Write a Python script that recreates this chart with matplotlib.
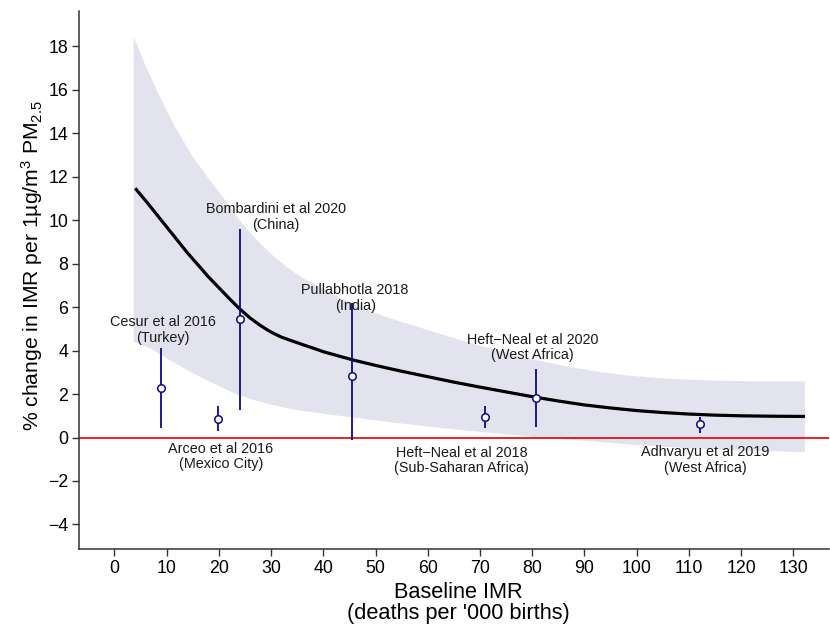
import matplotlib
matplotlib.use("Agg")
import matplotlib.pyplot as plt
import numpy as np

plt.rcParams['font.family'] = ['Liberation Sans', 'DejaVu Sans']
plt.rcParams['mathtext.fontset'] = 'custom'
plt.rcParams['mathtext.rm'] = 'Liberation Sans'
plt.rcParams['mathtext.it'] = 'Liberation Sans:italic'
plt.rcParams['mathtext.bf'] = 'Liberation Sans:bold'

# Fitted curve
curve_x = [4, 6, 8, 10, 12, 14, 16, 18, 20, 22, 24, 26, 28, 30, 32, 34, 36, 38, 40, 43, 46, 50, 55,
           60, 65, 70, 75, 80, 85, 90, 95, 100, 105, 110, 115, 120, 126, 132.2]
curve_y = [11.47, 10.9, 10.3, 9.7, 9.1, 8.5, 7.95, 7.4, 6.9, 6.4, 5.92, 5.5, 5.15, 4.85, 4.62, 4.45,
           4.28, 4.12, 3.95, 3.75, 3.55, 3.32, 3.05, 2.8, 2.55, 2.32, 2.1, 1.88, 1.68, 1.5, 1.36, 1.24,
           1.15, 1.08, 1.03, 1.0, 0.98, 0.97]

# Confidence band
band_hi_x = [3.7, 6, 8.4, 11.6, 14.8, 18, 21.2, 24, 27, 30, 33, 36, 40, 43.5, 47, 52, 60, 66, 72.6,
             80, 86, 91.7, 98, 104.5, 111, 118, 125, 132.2]
band_hi_y = [18.45, 17.1, 15.84, 14.31, 13.0, 11.93, 10.93, 10.0, 9.15, 8.45, 7.85, 7.35, 6.85, 6.4,
             6.0, 5.55, 4.95, 4.5, 4.05, 3.6, 3.3, 3.06, 2.86, 2.73, 2.65, 2.6, 2.58, 2.58]
band_lo_x = [3.7, 6, 7.5, 10, 13.9, 17, 20.2, 23, 26.6, 30, 33, 36, 39.4, 43, 47, 53, 59.8, 66, 72.6,
             80, 86, 91.7, 98, 104.5, 110.9, 118, 125, 132.2]
band_lo_y = [4.4, 4.2, 4.03, 3.65, 3.11, 2.72, 2.35, 2.03, 1.73, 1.52, 1.35, 1.22, 1.12, 1.0, 0.89,
             0.7, 0.51, 0.35, 0.2, 0.03, -0.08, -0.18, -0.31, -0.42, -0.5, -0.58, -0.63, -0.67]

# Studies
study_names = ["Cesur et al 2016\n(Turkey)", "Arceo et al 2016\n(Mexico City)",
               "Bombardini et al 2020\n(China)", "Pullabhotla 2018\n(India)",
               "Heft\u2212Neal et al 2018\n(Sub-Saharan Africa)", "Heft\u2212Neal et al 2020\n(West Africa)",
               "Adhvaryu et al 2019\n(West Africa)"]
study_x = [9.0, 19.85, 24.0, 45.45, 71.0, 80.7, 112.1]
study_y = [2.29, 0.87, 5.45, 2.84, 0.94, 1.84, 0.60]
study_lo = [0.45, 0.30, 1.25, -0.12, 0.43, 0.48, 0.23]
study_hi = [4.11, 1.43, 9.62, 6.20, 1.43, 3.16, 0.94]
label_x = [9.3, 20.4, 30.9, 46.1, 66.5, 80.1, 113.1]
label_y = [4.95, -0.87, 10.15, 6.43, -1.05, 4.15, -1.03]

xticks = list(range(0, 131, 10))
yticks = list(range(-4, 19, 2))

fig = plt.figure(figsize=(8.3, 6.27), dpi=100)
ax = fig.add_axes([79.3/830, 1-549/627, (829-79.3)/830, (549-11)/627])

ax.fill(list(band_hi_x) + list(band_lo_x[::-1]), list(band_hi_y) + list(band_lo_y[::-1]),
        color='#E3E3F0', lw=0, zorder=1)
ax.axhline(0, color='#E00000', lw=1.2, zorder=2)
ax.plot(curve_x, curve_y, color='black', lw=2.3, zorder=3, solid_capstyle='butt',
        solid_joinstyle='round')

ys = np.array(study_y)
yerr = np.vstack([ys - np.array(study_lo), np.array(study_hi) - ys])
ax.errorbar(study_x, study_y, yerr=yerr, fmt='o', color='#0A0A8A', ecolor='#0A0A8A',
            elinewidth=1.3, capsize=0, markersize=5.4, markerfacecolor='white',
            markeredgecolor='#0A0A8A', markeredgewidth=1.1, zorder=4)

for name, lx, ly in zip(study_names, label_x, label_y):
    ax.text(lx, ly, name, ha='center', va='center', fontsize=10.4, color='#1a1a1a',
            linespacing=1.15, zorder=5)

ax.set_xlim(-6.7, 136.8)
ax.set_ylim(-5.13, 19.63)
ax.set_xticks(xticks)
ax.set_yticks(yticks)
ax.set_yticklabels([str(t).replace('-', '\u2212') for t in yticks])
ax.tick_params(axis='both', labelsize=12.8, length=5, width=1, color='#333333', pad=3)
for s in ['top', 'right']:
    ax.spines[s].set_visible(False)
for s in ['left', 'bottom']:
    ax.spines[s].set_color('#333333')
    ax.spines[s].set_linewidth(1.1)

fig.text(458/830, 1-603.3/627, "Baseline IMR\n(deaths per '000 births)", ha='center', va='center',
         fontsize=15.7, linespacing=1.0)
fig.text(32/830, 1-266/627, "% change in IMR per 1\u00b5g/m$^{3}$ PM$_{2.5}$", ha='center', va='center',
         rotation=90, fontsize=15.2)

fig.savefig("out.png", dpi=100)
